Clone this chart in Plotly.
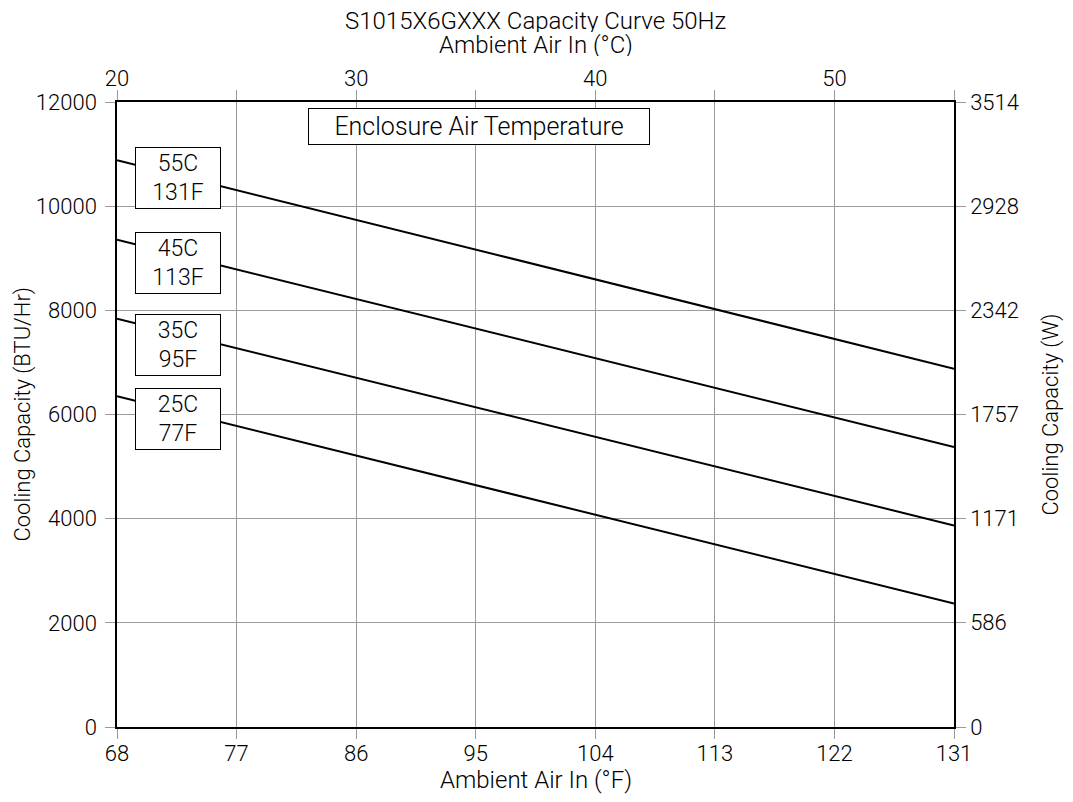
import plotly.graph_objects as go

# ---- data ----
ambient_f = [68, 131]
labels_c = ["55C", "45C", "35C", "25C"]
labels_f = ["131F", "113F", "95F", "77F"]
cap_55c = [10880, 6880]
cap_45c = [9355, 5375]
cap_35c = [7840, 3870]
cap_25c = [6350, 2370]
series = [cap_55c, cap_45c, cap_35c, cap_25c]

f_ticks = [68, 77, 86, 95, 104, 113, 122, 131]
c_ticks = [20, 25, 30, 35, 40, 45, 50, 55]
c_ticktext = ["20", "", "30", "", "40", "", "50", ""]
btu_ticks = [0, 2000, 4000, 6000, 8000, 10000, 12000]
btu_ticktext = ["0", "2000", "4000", "6000", "8000", "10000", "12000"]
w_ticks = [0, 586, 1171, 1757, 2342, 2928, 3514]

# ---- layout helpers (label box positions) ----
label_x = 72.6
label_y = [10540, 8910, 7330, 5920]

FONT = "Roboto, 'DejaVu Sans', sans-serif"
GRID = "#9a9a9a"
TICK = 22
W = 300

fig = go.Figure()
for vals in series:
    fig.add_trace(go.Scatter(x=ambient_f, y=vals, mode="lines",
                             line=dict(color="black", width=2),
                             showlegend=False, hoverinfo="skip"))
fig.add_trace(go.Scatter(x=[20, 55], y=[None, None], xaxis="x2", yaxis="y",
                         showlegend=False, hoverinfo="skip"))
fig.add_trace(go.Scatter(x=[68, 131], y=[None, None], xaxis="x", yaxis="y2",
                         showlegend=False, hoverinfo="skip"))

def tfont(s):
    return dict(size=s, color="black", family=FONT, weight=W)

for ly, c, f in zip(label_y, labels_c, labels_f):
    fig.add_annotation(x=label_x, y=ly, xref="x", yref="y",
                       text=f"{c}<br>{f}", showarrow=False, font=tfont(23),
                       bgcolor="white", bordercolor="black", borderwidth=1,
                       width=80, height=56, borderpad=2)

fig.add_annotation(x=95.25, y=11530, xref="x", yref="y",
                   text="Enclosure Air Temperature", showarrow=False,
                   font=tfont(25),
                   bgcolor="white", bordercolor="black", borderwidth=1,
                   width=336, height=31, borderpad=2)

fig.add_annotation(x=0.5, y=1.1296, xref="paper", yref="paper", showarrow=False,
                   text="S1015X6GXXX Capacity Curve 50Hz", font=tfont(24),
                   xanchor="center", yanchor="middle", height=22, borderpad=0)
fig.add_annotation(x=0.5, y=1.0912, xref="paper", yref="paper", showarrow=False,
                   text="Ambient Air In (°C)", font=tfont(24),
                   xanchor="center", yanchor="middle", height=22, borderpad=0)
fig.add_annotation(x=0.5, y=-0.0848, xref="paper", yref="paper", showarrow=False,
                   text="Ambient Air In (°F)", font=tfont(24),
                   xanchor="center", yanchor="middle")
fig.add_annotation(x=-0.1135, y=0.5, xref="paper", yref="paper", showarrow=False,
                   text="Cooling Capacity (BTU/Hr)", font=tfont(22), textangle=-90,
                   xanchor="center", yanchor="middle")
fig.add_annotation(x=1.1147, y=0.5, xref="paper", yref="paper", showarrow=False,
                   text="Cooling Capacity (W)", font=tfont(22), textangle=-90,
                   xanchor="center", yanchor="middle")

axis_common = dict(showline=True, linecolor="black", linewidth=1.5,
                   ticks="outside", ticklen=10, tickcolor=GRID, tickwidth=1,
                   tickfont=dict(size=TICK, color="black", family=FONT, weight=W),
                   zeroline=False, automargin=False)

# page body has an 8px margin: figure placed at (8, 8) in the window
fig.update_layout(
    width=1057, height=786,
    paper_bgcolor="white", plot_bgcolor="white",
    margin=dict(l=109, r=111, t=94, b=67, autoexpand=False),
    font=dict(family=FONT, size=TICK, color="black"),
    xaxis=dict(range=[68, 131], tickvals=f_ticks, showgrid=True, gridcolor=GRID,
               gridwidth=1, ticklabelstandoff=-4, **axis_common),
    xaxis2=dict(range=[20, 55], tickvals=c_ticks, ticktext=c_ticktext,
                overlaying="x", side="top", showgrid=False, ticklabelstandoff=-5,
                **axis_common),
    yaxis=dict(range=[0, 12000], tickvals=btu_ticks, ticktext=btu_ticktext,
               showgrid=True, gridcolor=GRID, gridwidth=1, ticklabelstandoff=4,
               **axis_common),
    yaxis2=dict(range=[0, 3514], tickvals=w_ticks, overlaying="y", side="right",
                showgrid=False, ticklabelstandoff=0, **axis_common),
)

fig.write_html("out.html")
